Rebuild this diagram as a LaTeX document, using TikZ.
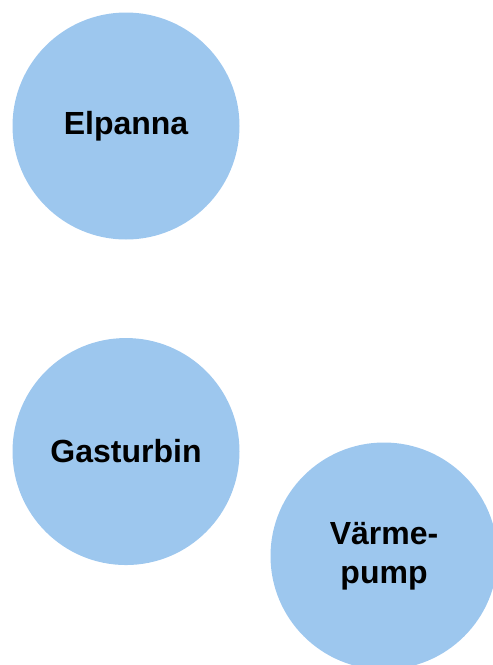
\documentclass[tikz,border=0pt]{standalone}
\usepackage{fontspec}
\setmainfont{Liberation Sans}
\usepackage{tikz}
\usetikzlibrary{positioning}
\definecolor{bubble}{HTML}{9DC7EE}
\tikzset{
  source/.style={
    circle, minimum size=170.25pt, inner sep=0pt,
    fill=bubble, draw=none, text centered, align=center,
    font=\fontsize{24}{29}\selectfont\bfseries,
  },
}
\begin{document}
\begin{tikzpicture}[x=0.75pt, y=-0.75pt]

  \useasboundingbox (0,0) rectangle (493,665);
  \clip (0,0) rectangle (493,665);

  \node[source] (elpanna) at (126,126) {Elpanna};
  \node[source, below=73.5pt of elpanna] (gasturbin) {Gasturbin};
  \node[source] (pump) at (384,556) {Värme-\\pump};

\end{tikzpicture}
\end{document}
